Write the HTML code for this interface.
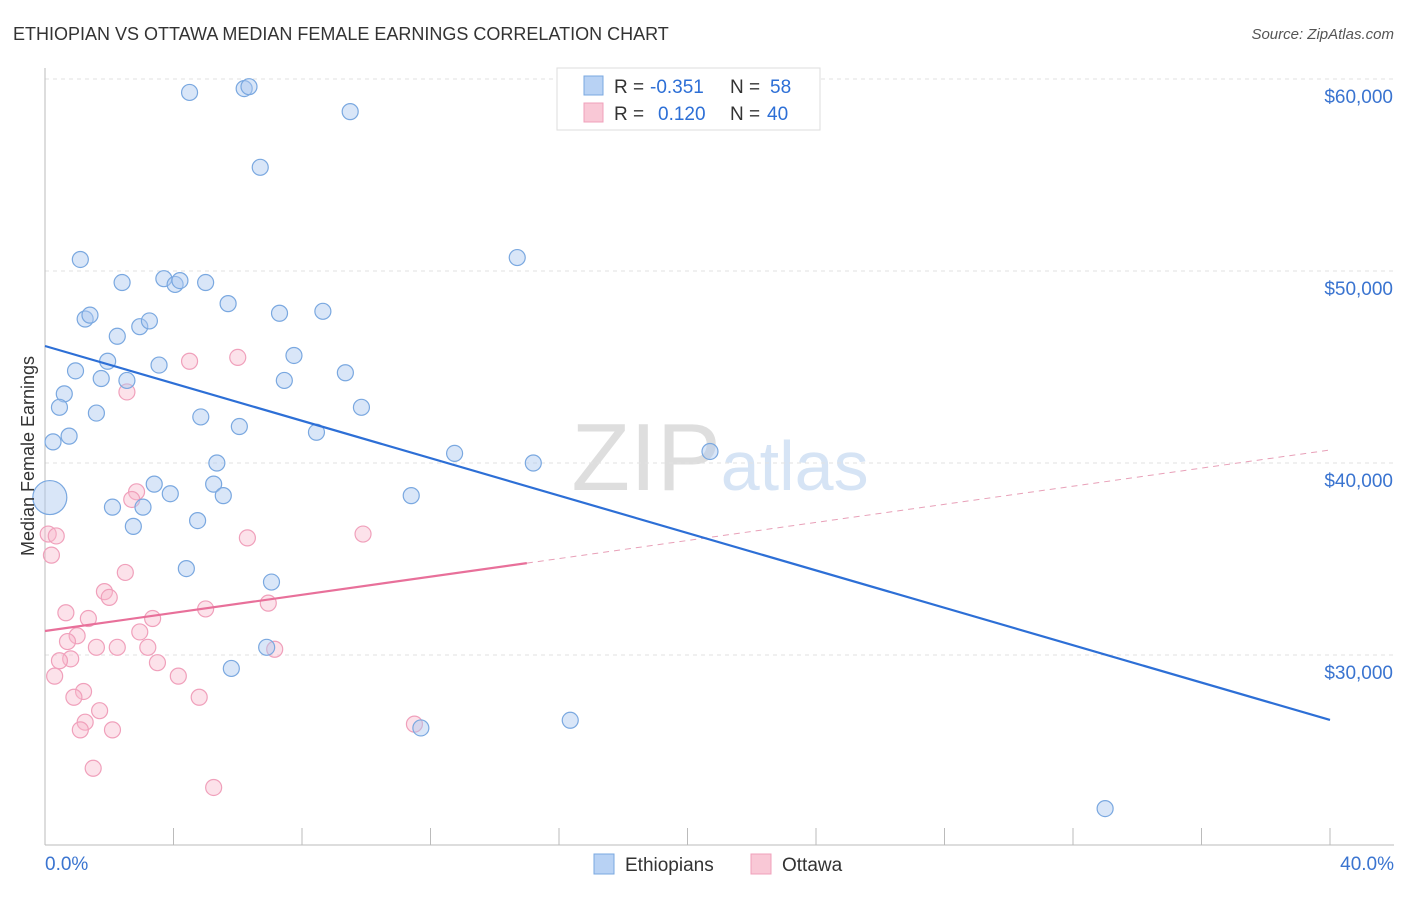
<!DOCTYPE html>
<html><head><meta charset="utf-8"><style>
body{margin:0;background:#fff;font-family:"Liberation Sans",sans-serif}
svg text{font-family:"Liberation Sans",sans-serif}
</style></head><body>
<svg id="c" width="1406" height="892" viewBox="0 0 1406 892" xmlns="http://www.w3.org/2000/svg">
<text x="13" y="40" font-size="18" fill="#333">ETHIOPIAN VS OTTAWA MEDIAN FEMALE EARNINGS CORRELATION CHART</text>
<text x="1394" y="39" font-size="15" fill="#555" font-style="italic" text-anchor="end">Source: ZipAtlas.com</text>
<text x="720" y="490" font-size="96" fill="#e4e4e4" text-anchor="middle" font-family="Liberation Serif"><tspan fill="#dedede">ZIP</tspan><tspan fill="#d6e4f5" font-family="Liberation Sans" font-size="70">atlas</tspan></text>
<g id="grid"></g><g id="axes"></g><g id="marks"></g>
<text transform="translate(34,456) rotate(-90)" font-size="18" fill="#333" text-anchor="middle">Median Female Earnings</text>
<g>
<rect x="557" y="68" width="263" height="62" fill="#fff" stroke="#ddd"/>
<rect x="584" y="76" width="19" height="19" fill="#b8d2f4" stroke="#7aa8e0"/>
<text x="614" y="93" font-size="19" fill="#333">R = </text><text x="650" y="93" font-size="19" fill="#2d6fd6">-0.351</text>
<text x="730" y="93" font-size="19" fill="#333">N = </text><text x="770" y="93" font-size="19" fill="#2d6fd6">58</text>
<rect x="584" y="103" width="19" height="19" fill="#f9c8d6" stroke="#f0a0bb"/>
<text x="614" y="120" font-size="19" fill="#333">R = </text><text x="658" y="120" font-size="19" fill="#2d6fd6">0.120</text>
<text x="730" y="120" font-size="19" fill="#333">N = </text><text x="767" y="120" font-size="19" fill="#2d6fd6">40</text>
</g>
<g>
<rect x="594" y="854" width="20" height="20" fill="#b8d2f4" stroke="#7aa8e0"/><text x="625" y="871" font-size="19" fill="#333">Ethiopians</text>
<rect x="751" y="854" width="20" height="20" fill="#f9c8d6" stroke="#f0a0bb"/><text x="782" y="871" font-size="19" fill="#333">Ottawa</text>
</g>
</svg>
<script>
const yTicks=[30000,40000,50000,60000];
const yTickLabels=["$30,000","$40,000","$50,000","$60,000"];
const xTickLabels=["0.0%","40.0%"];
const ethX=[4.5,6.2,6.35,9.5,6.7,1.1,14.7,2.4,3.7,4.05,4.2,5.0,5.7,7.3,8.65,1.25,1.4,2.25,2.95,3.25,1.95,3.55,1.75,2.55,0.95,7.75,7.45,9.35,0.6,0.45,1.6,4.85,9.85,6.05,0.75,0.25,8.45,12.75,15.2,20.7,5.35,0.15,3.4,3.9,5.25,5.55,11.4,2.1,3.05,2.75,4.75,4.4,7.05,6.9,5.8,16.35,11.7,33.0];
const ethY=[59300,59500,59600,58300,55400,50600,50700,49400,49600,49300,49500,49400,48300,47800,47900,47500,47700,46600,47100,47400,45300,45100,44400,44300,44800,45600,44300,44700,43600,42900,42600,42400,42900,41900,41400,41100,41600,40500,40000,40600,40000,38200,38900,38400,38900,38300,38300,37700,37700,36700,37000,34500,33800,30400,29300,26600,26200,22000];
const ottX=[4.5,6.0,2.55,2.85,2.7,0.1,0.35,6.3,9.9,0.2,2.5,1.85,2.0,0.65,1.35,3.35,5.0,6.95,1.0,2.95,0.7,1.6,2.25,3.2,7.15,0.8,0.45,3.5,0.3,4.15,1.2,0.9,4.8,1.7,1.25,1.1,2.1,11.5,1.5,5.25];
const ottY=[45300,45500,43700,38500,38100,36300,36200,36100,36300,35200,34300,33300,33000,32200,31900,31900,32400,32700,31000,31200,30700,30400,30400,30400,30300,29800,29700,29600,28900,28900,28100,27800,27800,27100,26500,26100,26100,26400,24100,23100];
const ethTrend=[46094,26615];
const ottTrend=[31250,40677];
const ottSolidEnd=15;
const NS="http://www.w3.org/2000/svg";
const X=p=>45+p/40*1285, Y=v=>79+(60000-v)*0.0192;
function mk(t,a,parent){const e=document.createElementNS(NS,t);for(const k in a)e.setAttribute(k,a[k]);document.getElementById(parent).appendChild(e);return e;}
yTicks.forEach((v,i)=>{
 const l=mk('line',{x1:45,x2:1394,y1:Y(v),y2:Y(v),stroke:'#e2e2e2','stroke-dasharray':'4,4'},'grid');
 
 
 const t=mk('text',{x:1393,y:Y(v)+24,'font-size':19,fill:'#3a74d0','text-anchor':'end'},'axes');
 t.textContent=yTickLabels[i];
 
 
});
let a=mk('line',{x1:45,x2:45,y1:68,y2:845,stroke:'#bbb'},'axes');


a=mk('line',{x1:45,x2:1394,y1:845,y2:845,stroke:'#bbb'},'axes');


for(let i=0;i<=10;i++){const t=mk('line',{x1:X(i*4),x2:X(i*4),y1:828,y2:845,stroke:'#bbb'},'axes');
 
 }
[[0,'start',45],[40,'end',1394]].forEach((d,i)=>{const t=mk('text',{x:d[2],y:870,'font-size':19,fill:'#3a74d0','text-anchor':d[1]},'axes');t.textContent=xTickLabels[i];
 
 });
ottX.forEach((x,i)=>{const c=mk('circle',{cx:X(x),cy:Y(ottY[i]),r:8,fill:'rgba(247,182,202,0.4)',stroke:'#f0a0bb','stroke-width':1.2},'marks');
 
 });
ethX.forEach((x,i)=>{const c=mk('circle',{cx:X(x),cy:Y(ethY[i]),r:i==41?17:8,fill:'rgba(170,200,240,0.45)',stroke:'#7aa8e0','stroke-width':1.2},'marks');
 
 });
const oy=p=>ottTrend[0]+(ottTrend[1]-ottTrend[0])*p/40;
let l=mk('line',{x1:X(0),y1:Y(oy(0)),x2:X(ottSolidEnd),y2:Y(oy(ottSolidEnd)),stroke:'#e8709a','stroke-width':2.2},'marks');


l=mk('line',{x1:X(ottSolidEnd),y1:Y(oy(ottSolidEnd)),x2:X(40),y2:Y(oy(40)),stroke:'#e8a0b8','stroke-width':1,'stroke-dasharray':'6,5'},'marks');


l=mk('line',{x1:X(0),y1:Y(ethTrend[0]),x2:X(40),y2:Y(ethTrend[1]),stroke:'#2d6fd6','stroke-width':2.2},'marks');


</script>
</body></html>
